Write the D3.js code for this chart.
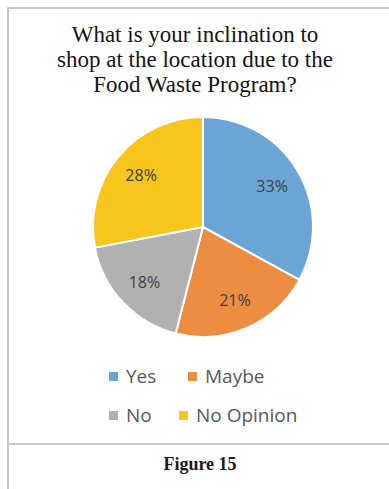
<!DOCTYPE html>
<html>
<head>
<meta charset="utf-8">
<script src="https://cdn.jsdelivr.net/npm/d3@7"></script>
<style>
  html, body { margin: 0; padding: 0; background: #fff; }
  svg { display: block; }
</style>
</head>
<body>
<svg id="chart" width="389" height="489"></svg>
<script>
// Survey responses
const categories = ["Yes", "Maybe", "No", "No Opinion"];
const values = [33, 21, 18, 28];
const colors = ["#6aa5d6", "#ed8d41", "#b1b1b1", "#f7c51c"];
const titleLines = [
  "What is your inclination to",
  "shop at the location due to the",
  "Food Waste Program?"
];
const caption = "Figure 15";

const svg = d3.select("#chart");
const W = 389, H = 489;

// Frame lines
const frame = svg.append("g").attr("stroke", "#c8c8c8").attr("stroke-width", 2);
frame.append("line").attr("x1", 8).attr("x2", W).attr("y1", 8).attr("y2", 8);
frame.append("line").attr("x1", 8).attr("x2", 8).attr("y1", 7).attr("y2", H);
frame.append("line").attr("x1", 8).attr("x2", W).attr("y1", 444).attr("y2", 444);

// Title
svg.append("g")
  .selectAll("text")
  .data(titleLines)
  .join("text")
  .attr("x", 195)
  .attr("y", (d, i) => 42 + i * 25)
  .attr("text-anchor", "middle")
  .attr("font-family", "Liberation Serif, serif")
  .attr("font-size", 23)
  .attr("fill", "#141414")
  .text(d => d);

// Pie
const cx = 203, cy = 227, r = 110;
const color = d3.scaleOrdinal().domain(categories).range(colors);
const data = categories.map((c, i) => ({ cat: c, value: values[i] }));
const pie = d3.pie().value(d => d.value).sort(null);
const arcs = pie(data);
const arc = d3.arc().innerRadius(0).outerRadius(r);
const labelArc = d3.arc().innerRadius(r * 0.73).outerRadius(r * 0.73);

const g = svg.append("g").attr("transform", `translate(${cx},${cy})`);
g.selectAll("path")
  .data(arcs)
  .join("path")
  .attr("d", arc)
  .attr("fill", d => color(d.data.cat))
  .attr("stroke", "#fff")
  .attr("stroke-width", 2);

g.selectAll("text")
  .data(arcs)
  .join("text")
  .attr("transform", d => `translate(${labelArc.centroid(d)})`)
  .attr("text-anchor", "middle")
  .attr("dy", "0.35em")
  .attr("font-family", "Open Sans, sans-serif")
  .attr("font-size", 16)
  .attr("fill", "#404040")
  .text(d => d.data.value + "%");

// Legend
const legendPos = [
  { x: 109, y: 383 },
  { x: 188, y: 383 },
  { x: 109, y: 422 },
  { x: 179, y: 422 }
];
const legend = svg.append("g")
  .selectAll("g")
  .data(categories)
  .join("g")
  .attr("transform", (d, i) => `translate(${legendPos[i].x},${legendPos[i].y})`);
legend.append("rect")
  .attr("x", 0).attr("y", -11)
  .attr("width", 9).attr("height", 9)
  .attr("fill", d => color(d));
legend.append("text")
  .attr("x", 17)
  .attr("y", 0)
  .attr("font-family", "Open Sans, sans-serif")
  .attr("font-size", 19)
  .attr("fill", "#595959")
  .text(d => d);

// Caption
svg.append("text")
  .attr("x", 200)
  .attr("y", 470)
  .attr("text-anchor", "middle")
  .attr("font-family", "Liberation Serif, serif")
  .attr("font-size", 18)
  .attr("font-weight", "600")
  .attr("fill", "#1a1a1a")
  .text(caption);
</script>
</body>
</html>
